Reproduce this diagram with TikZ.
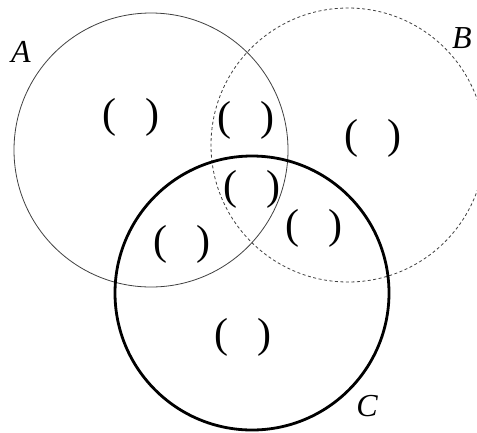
\documentclass[tikz,border=0pt]{standalone}
\usepackage{fontspec}
\setmainfont{Liberation Serif}
\usepackage{tikz}
\usetikzlibrary{positioning}

\begin{document}
\begin{tikzpicture}[x=1pt,y=1pt,
          setring/.style={circle,draw,minimum size=274pt,inner sep=0pt},
          setname/.style={font=\fontsize{32}{34}\selectfont\itshape,inner sep=0pt},
          blank/.style={font=\fontsize{42}{46}\selectfont,inner sep=0pt}]
        \useasboundingbox (0,0) rectangle (477,-432);
        % the three sets
        \node[setring,draw=black!75,line width=0.8pt] (A) at (151,-150) {};
        \node[setring,draw=black!75,line width=0.8pt,dash pattern=on 3pt off 2.5pt] (B) at (348,-145) {};
        \node[setring,line width=2.8pt] (C) at (252,-293) {};
        \node[setname] (nameA) at (21,-52) {A};
        \node[setname] (nameB) at (462,-38) {B};
        \node[setname] (nameC) at (367,-406) {C};
        % empty brackets in each region
        \node[blank] (a)   at (131,-117) {(\hspace{30pt})};
        \node[blank] (ab)  at (246,-120) {(\hspace{30pt})};
        \node[blank] (b)   at (373,-138) {(\hspace{30pt})};
        \node[blank] (abc) at (252,-189) {(\hspace{30pt})};
        \node[blank] (bc)  at (314,-228) {(\hspace{30pt})};
        \node[blank] (ac)  at (182,-244) {(\hspace{30pt})};
        \node[blank] (c)   at (243,-337) {(\hspace{30pt})};
        \end{tikzpicture}
\end{document}
